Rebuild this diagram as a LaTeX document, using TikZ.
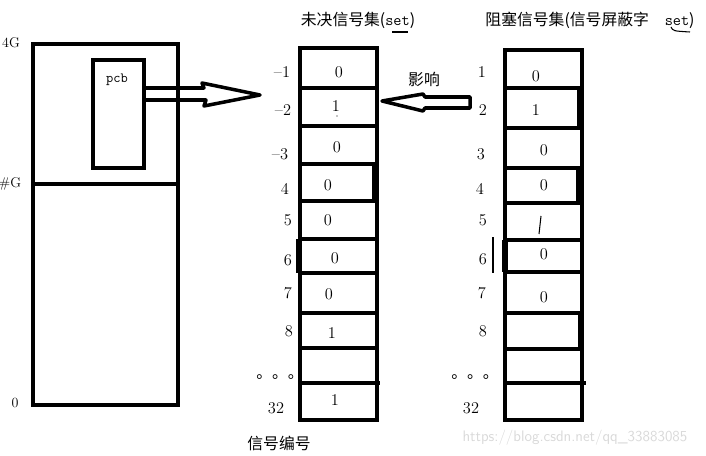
\documentclass[tikz,border=0pt]{standalone}
\usepackage{fontspec}
\newfontfamily\cjk{Noto Sans CJK SC}
\usetikzlibrary{calc}

\tikzset{
  bold line/.style={line width=3.4pt},
  thin mark/.style={line width=0.9pt},
  hollow/.style={line width=3pt, line join=round},
  num/.style={font=\fontsize{14}{16}\selectfont, inner sep=0pt},
  han/.style={font=\cjk\fontsize{13.5}{16}\selectfont, inner sep=0pt},
}

\begin{document}
\begin{tikzpicture}[x=0.03cm, y=-0.03cm]
  \useasboundingbox (0,0) rectangle (706,456);

  % memory of the process
  \coordinate (memtl) at (33,44);
  \coordinate (membr) at (178,405);
  \draw[bold line] (memtl) rectangle (membr);
  \coordinate (gl) at (35,184);
  \coordinate (gr) at (176,184);
  \draw[bold line] (gl) -- (gr);
  \node[draw, bold line, anchor=north west, minimum width=1.53cm, minimum height=3.24cm, inner sep=0pt] (pcb) at (91,58) {};
  \node[num, font=\ttfamily\fontsize{12}{14}\selectfont] (pcbtext) at (117,80) {pcb};
  \foreach \x/\y/\t [count=\i] in {
    11/43/4G,
    10/184/\#G,
    15/403/0
  }{
    \node[num, font=\fontsize{12}{14}\selectfont] (mem\i) at (\x,\y) {\t};
  }

  % pending set
  \coordinate (pendtl) at (300,48);
  \coordinate (pendbr) at (377,420);
  \draw[bold line] (pendtl) rectangle (pendbr);
  \foreach \y in {88,126,164,201,239,273,313,348}
    \draw[bold line] (300,\y) -- (377,\y);
  \draw[bold line] (300,383) -- (380,383);
  \fill (372,165) rectangle (378,201);
  \fill (296,239) rectangle (302,273);
  \foreach \x/\y/\v [count=\i] in {
    339/72/0, 336/106/1, 337/147/0, 328/185/0, 328/220/0,
    335/258/0, 329/294/0, 332/333/1, 335/400/1
  }{
    \node[num] (pv\i) at (\x,\y) {\v};
  }
  \fill (337,116) circle (0.5pt);
  \foreach \x/\y/\t [count=\i] in {
    282/72/--1, 283/110/--2, 280/154/--3, 285/189/4, 288/220/5,
    288/260/6, 288/293/7, 289/331/8, 276/408/32
  }{
    \node[num] (pn\i) at (\x,\y) {\t};
  }
  \node[han] (pdots) at (280,377) {。。。};
  \node[han] (pendtitle) at (358,20) {未决信号集(\texttt{set})};
  \draw[thin mark] (392,32) -- (408,32);
  \node[han] (signo) at (279,443) {信号编号};

  % blocked set
  \coordinate (blktl) at (505,50);
  \coordinate (blkbr) at (582,420);
  \draw[bold line] (blktl) rectangle (blkbr);
  \foreach \y in {88,128,168,203,240,272,313,349}
    \draw[bold line] (505,\y) -- (582,\y);
  \draw[bold line] (505,383) -- (586,383);
  \fill (577,88) rectangle (582,128);
  \fill (576,168) rectangle (582,203);
  \fill (502,240) rectangle (508,272);
  \fill (578,313) rectangle (582,349);
  \foreach \x/\y/\v [count=\i] in {
    536/76/0, 536/110/1, 544/150/0, 544/185/0,
    544/254/0, 544/297/0
  }{
    \node[num] (bv\i) at (\x,\y) {\v};
  }
  \draw[thin mark] (541,216) -- (539,234);
  \draw[thin mark] (493,237) -- (493,273);
  \foreach \x/\y/\t [count=\i] in {
    482/72/1, 483/110/2, 481/154/3, 480/189/4, 483/220/5,
    483/259/6, 482/293/7, 483/331/8, 471/408/32
  }{
    \node[num] (bn\i) at (\x,\y) {\t};
  }
  \node[han] (bdots) at (475,377) {。。。};
  \node[han] (blktitle) at (590,20) {阻塞信号集(信号屏蔽字\quad\texttt{set})};
  \draw[thin mark] (671,27) .. controls (673,31) .. (690,32);

  % arrows
  \coordinate (pcbout) at (pcb.east |- 0,94);
  \coordinate (pendin) at (260,95);
  \draw[hollow] ($(pcbout)+(0,-6)$) -- ($(pcbout)+(58,-6)$) -- ($(pcbout)+(56,-11)$)
    -- (pendin) -- ($(pcbout)+(58,12)$) -- ($(pcbout)+(60,6)$) -- ($(pcbout)+(0,6)$);
  \coordinate (blkout) at (470,102);
  \coordinate (pendhit) at (382,101);
  \draw[hollow] ($(blkout)+(0,-5)$) -- ($(blkout)+(-45,-5)$) -- ($(blkout)+(-47,-8)$)
    -- (pendhit) -- ($(blkout)+(-47,9)$) -- ($(blkout)+(-45,6)$) -- ($(blkout)+(0,6)$) -- cycle;
  \node[han] (effect) at (424,79) {影响};

  \node[font=\sffamily\fontsize{13}{15}\selectfont, text=black!15] (wm) at (575,438) {https://blog.csdn.net/qq\_33883085};
\end{tikzpicture}
\end{document}
